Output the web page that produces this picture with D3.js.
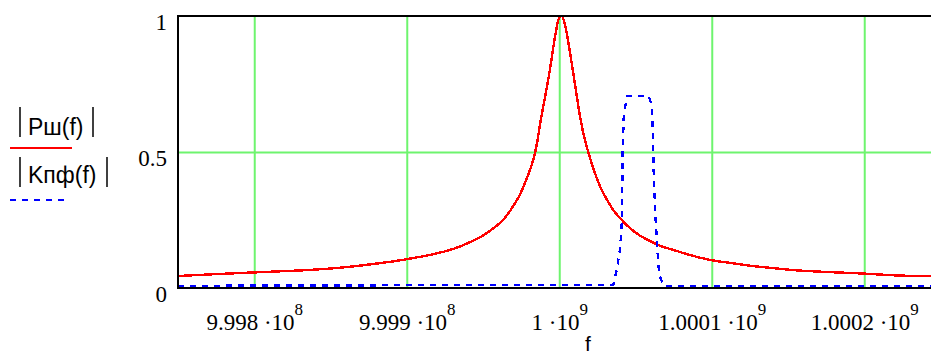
<!DOCTYPE html>
<html>
<head>
<meta charset="utf-8">
<script src="https://cdn.jsdelivr.net/npm/d3@7"></script>
<style>
  html, body { margin: 0; padding: 0; background: #fff; }
  svg { display: block; }
  .serif { font-family: "Liberation Serif", "DejaVu Serif", serif; }
  .sans { font-family: "Liberation Sans", "DejaVu Sans", sans-serif; }
</style>
</head>
<body>
<svg id="chart" width="931" height="356"></svg>
<script>
// Frequency axis (Hz)
const fMin = 999750000;
const fMax = 1000250000;
const xTickValues = [999800000, 999900000, 1000000000, 1000100000, 1000200000];
const xTickMantissa = ["9.998", "9.999", "1", "1.0001", "1.0002"];
const xTickExponent = ["8", "8", "9", "9", "9"];
const yTickValues = [0, 0.5, 1];
const yTickLabels = ["0", "0.5", "1"];

// |Pш(f)| — resonance curve, offset from 1 GHz (Hz) and magnitude
const pshOffset = [-250000, -225000, -193000, -168500, -149000, -134000, -121000, -110000,
  -103000, -95000, -87000, -80500, -74000, -65000, -56500, -50000, -43500, -36500, -31000,
  -25500, -21000, -17000, -14500, -12500, -9200, -5900, -3900, -2000, 0, 1600, 3900, 5900,
  8500, 11100, 13800, 17000, 19000, 26900, 31500, 35400, 40000, 46600, 53100, 59700, 66200,
  74800, 85900, 99000, 114000, 125000, 137000, 153000, 171000, 196000, 228000, 250000];
const pshValue = [0.044, 0.051, 0.059, 0.065, 0.072, 0.080, 0.089, 0.097,
  0.103, 0.111, 0.119, 0.127, 0.136, 0.153, 0.174, 0.193, 0.218, 0.252, 0.294,
  0.347, 0.407, 0.472, 0.535, 0.605, 0.705, 0.810, 0.885, 0.948, 0.995, 1.0, 0.965, 0.905,
  0.815, 0.720, 0.625, 0.540, 0.500, 0.372, 0.322, 0.287, 0.256, 0.219, 0.192, 0.172, 0.155,
  0.140, 0.121, 0.103, 0.091, 0.082, 0.075, 0.066, 0.060, 0.054, 0.045, 0.044];

// |Kпф(f)| — band-pass filter response
const kpfOffset = [-250000, 35400, 37800, 40000, 41100, 41600, 42200, 43300, 44400,
  58600, 60800, 61400, 61800, 63000, 64500, 65600, 67300, 69500, 250000];
const kpfValue = [0.008, 0.012, 0.07, 0.15, 0.25, 0.5, 0.62, 0.667, 0.706,
  0.706, 0.67, 0.55, 0.45, 0.27, 0.128, 0.048, 0.025, 0.008, 0.008];

const f0 = 1000000000;
const psh = pshOffset.map((d, i) => ({ f: f0 + d, v: pshValue[i] }));
const kpf = kpfOffset.map((d, i) => ({ f: f0 + d, v: kpfValue[i] }));

const plotLeft = 178, plotRight = 940.5, plotTop = 16, plotBottom = 288;
const svg = d3.select("#chart");

const x = d3.scaleLinear().domain([fMin, fMax]).range([plotLeft, plotRight]);
const y = d3.scaleLinear().domain([0, 1]).range([plotBottom, plotTop]);

const gridColor = "#6ef46e";

// vertical grid
svg.append("g")
  .attr("transform", `translate(0,${plotBottom})`)
  .call(d3.axisBottom(x).tickValues(xTickValues).tickSize(-(plotBottom - plotTop)).tickFormat(() => ""))
  .call(g => g.select(".domain").remove())
  .call(g => g.selectAll(".tick line").attr("stroke", gridColor).attr("stroke-width", 2));

// horizontal grid
svg.append("g")
  .attr("transform", `translate(${plotLeft},0)`)
  .call(d3.axisLeft(y).tickValues([0.5]).tickSize(-(plotRight - plotLeft)).tickFormat(() => ""))
  .call(g => g.select(".domain").remove())
  .call(g => g.selectAll(".tick line").attr("stroke", gridColor).attr("stroke-width", 2));

// curves
svg.append("path")
  .datum(psh)
  .attr("d", d3.line().x(d => x(d.f)).y(d => y(d.v)).curve(d3.curveMonotoneX))
  .attr("fill", "none")
  .attr("stroke", "#ff0000")
  .attr("stroke-width", 2.4)
  .attr("shape-rendering", "crispEdges");

svg.append("path")
  .datum(kpf)
  .attr("d", d3.line().x(d => x(d.f)).y(d => y(d.v)))
  .attr("fill", "none")
  .attr("stroke", "#0000ff")
  .attr("stroke-width", 2.4)
  .attr("stroke-dasharray", "6,6")
  .attr("shape-rendering", "crispEdges");

// frame
svg.append("path")
  .attr("d", `M${plotRight},${plotTop}H${plotLeft}V${plotBottom}H${plotRight}`)
  .attr("fill", "none")
  .attr("stroke", "#000")
  .attr("stroke-width", 2);

// x tick labels
const xAxis = svg.append("g")
  .attr("transform", `translate(0,${plotBottom})`)
  .call(d3.axisBottom(x).tickValues(xTickValues).tickSize(0).tickPadding(0).tickFormat(() => ""))
  .attr("font-family", null).attr("font-size", null);
xAxis.select(".domain").remove();
xAxis.selectAll(".tick text")
  .attr("class", "serif")
  .attr("y", 42)
  .attr("dy", null)
  .attr("fill", "#000")
  .style("font-size", "23px")
  .each(function (d, i) {
    const t = d3.select(this);
    t.append("tspan").text(xTickMantissa[i] + " \u00b710");
    t.append("tspan").attr("dy", -15).style("font-size", "17px").text(xTickExponent[i]);
  });

// y tick labels
const yAxis = svg.append("g")
  .attr("transform", `translate(${plotLeft},0)`)
  .call(d3.axisLeft(y).tickValues(yTickValues).tickSize(0).tickPadding(11)
    .tickFormat((d, i) => yTickLabels[i]))
  .attr("font-family", null).attr("font-size", null);
yAxis.select(".domain").remove();
yAxis.selectAll(".tick text")
  .attr("class", "serif")
  .attr("dy", 13)
  .attr("fill", "#000")
  .style("font-size", "23px");

// axis title
svg.append("text")
  .attr("class", "sans")
  .attr("x", 588).attr("y", 351)
  .attr("text-anchor", "middle")
  .style("font-size", "21px")
  .text("f");

// legend
const legend = [
  { name: "Pш(f)", color: "#ff0000", dash: null, barTop: 107, baseline: 135, right: 93, lineY: 148, lineEnd: 72 },
  { name: "Kпф(f)", color: "#0000ff", dash: "6,6", barTop: 157, baseline: 183, right: 107, lineY: 200, lineEnd: 64 }
];
const lg = svg.append("g");
legend.forEach(l => {
  lg.append("line").attr("x1", 20).attr("x2", 20).attr("y1", l.barTop).attr("y2", l.barTop + 30)
    .attr("stroke", "#000").attr("stroke-width", 1.5);
  lg.append("line").attr("x1", l.right).attr("x2", l.right).attr("y1", l.barTop).attr("y2", l.barTop + 30)
    .attr("stroke", "#000").attr("stroke-width", 1.5);
  lg.append("text").attr("class", "sans").attr("x", 28).attr("y", l.baseline)
    .style("font-size", "23px")
    .text(l.name);
  lg.append("line").attr("x1", 10).attr("x2", l.lineEnd).attr("y1", l.lineY).attr("y2", l.lineY)
    .attr("stroke", l.color).attr("stroke-width", 2)
    .attr("stroke-dasharray", l.dash);
});
</script>
</body>
</html>
